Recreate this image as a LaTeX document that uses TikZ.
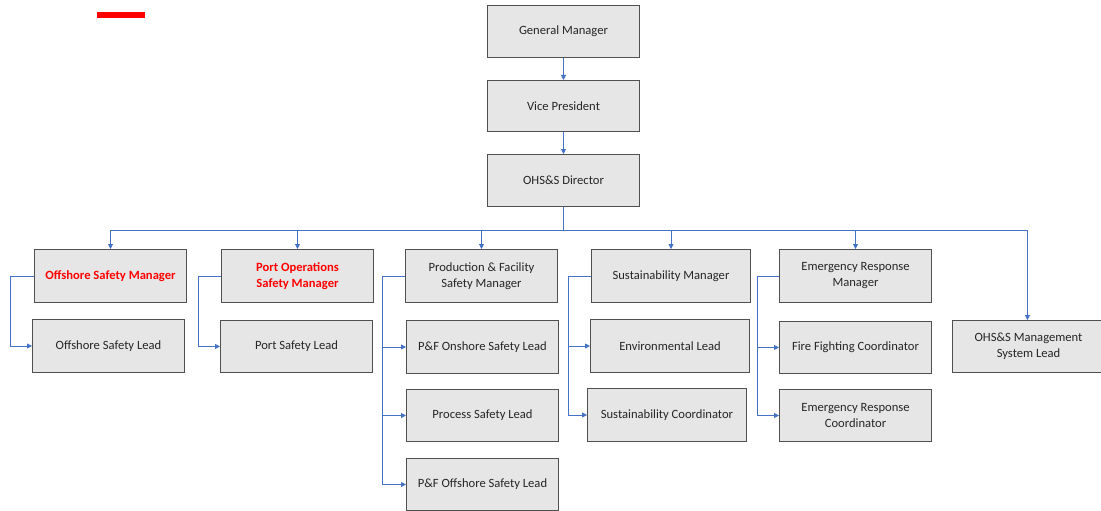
\documentclass[tikz,border=0pt]{standalone}
\usepackage{fontspec}
\setmainfont{Carlito}
\usetikzlibrary{arrows.meta}
\definecolor{boxfill}{RGB}{230,230,230}
\definecolor{boxline}{RGB}{80,80,80}
\definecolor{conn}{RGB}{68,114,196}
\definecolor{txt}{RGB}{38,38,38}
\begin{document}
\begin{tikzpicture}[x=1pt,y=-1pt,
  box/.style={draw=boxline,fill=boxfill,line width=1pt,align=center,text=txt,
    font=\fontsize{12.6}{16}\selectfont,inner sep=0pt,anchor=north west},
  redtxt/.style={text=red,font=\fontsize{12.6}{16}\selectfont\bfseries},
  link/.style={draw=conn,line width=0.8pt},
  arr/.style={link,-{Triangle[length=5pt,width=5pt]}}]
\clip (0,0) rectangle (1101,511);
\fill[white] (0,0) rectangle (1101,511);
\fill[red] (97,12) rectangle (145,18);
% top chain
\node[box,minimum width=152pt,minimum height=52pt] (gm) at (487,5) {General Manager};
\node[box,minimum width=152pt,minimum height=51pt] (vp) at (487,80) {Vice President};
\node[box,minimum width=152pt,minimum height=52pt] (dir) at (487,154) {OHS\&S Director};
% managers
\node[box,redtxt,minimum width=152pt,minimum height=53pt] (osm) at (34,249) {Offshore Safety Manager};
\node[box,redtxt,minimum width=152pt,minimum height=53pt] (pom) at (221,249) {Port Operations\\Safety Manager};
\node[box,minimum width=152pt,minimum height=53pt] (pfm) at (405,249) {Production \& Facility\\Safety Manager};
\node[box,minimum width=159pt,minimum height=53pt] (sm) at (591,249) {Sustainability Manager};
\node[box,minimum width=152pt,minimum height=53pt] (erm) at (779,249) {Emergency Response\\Manager};
% leads
\node[box,minimum width=152pt,minimum height=53pt] (osl) at (32,319) {Offshore Safety Lead};
\node[box,minimum width=152pt,minimum height=52pt] (psl) at (220,320) {Port Safety Lead};
\node[box,minimum width=152pt,minimum height=53pt] (pf1) at (406,320) {P\&F Onshore Safety Lead};
\node[box,minimum width=152pt,minimum height=52pt] (pf2) at (406,389) {Process Safety Lead};
\node[box,minimum width=152pt,minimum height=52pt] (pf3) at (406,458) {P\&F Offshore Safety Lead};
\node[box,minimum width=159pt,minimum height=53pt] (env) at (590,319) {Environmental Lead};
\node[box,minimum width=159pt,minimum height=53pt] (sc) at (587,388) {Sustainability Coordinator};
\node[box,minimum width=152pt,minimum height=52pt] (ffc) at (779,321) {Fire Fighting Coordinator};
\node[box,minimum width=152pt,minimum height=52pt] (erc) at (779,389) {Emergency Response\\Coordinator};
\node[box,minimum width=152pt,minimum height=52pt] (msl) at (952,320) {OHS\&S Management\\System Lead};
% chain connectors
\draw[arr] (gm) -- (vp);
\draw[arr] (vp) -- (dir);
\draw[link] (dir.south) -- ++(0,23) coordinate (bus);
\draw[arr] (bus) -| (osm.north);
\draw[arr] (bus) -| (pom.north);
\draw[arr] (bus) -| (pfm.north);
\draw[arr] (bus) -| (sm.north);
\draw[arr] (bus) -| (erm.north);
\draw[arr] (bus) -| ([xshift=-1pt]msl.north);
% elbows
\draw[arr] (osm.west) -- ++(-24,0) coordinate (ox) |- (osl.west);
\draw[arr] (pom.west) -- ++(-23,0) coordinate (px) |- (psl.west);
\draw[link] (pfm.west) -- ++(-23,0) coordinate (fx);
\draw[arr] (fx) |- (pf1.west);
\draw[arr] (fx) |- (pf2.west);
\draw[arr] (fx) |- (pf3.west);
\draw[link] (sm.west) -- ++(-23,0) coordinate (sx);
\draw[arr] (sx) |- (env.west);
\draw[arr] (sx) |- (sc.west);
\draw[link] (erm.west) -- ++(-22,0) coordinate (ex);
\draw[arr] (ex) |- (ffc.west);
\draw[arr] (ex) |- (erc.west);
\end{tikzpicture}
\end{document}
